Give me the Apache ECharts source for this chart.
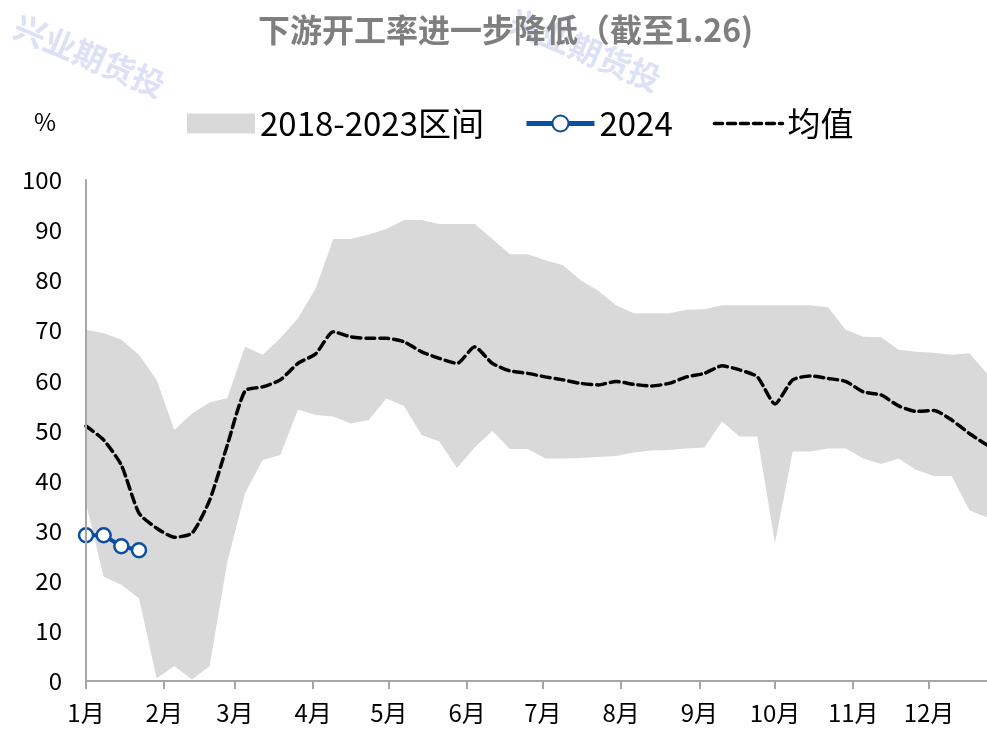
<!DOCTYPE html>
<html>
<head>
<meta charset="utf-8">
<script src="https://cdn.jsdelivr.net/npm/echarts@6/dist/echarts.min.js"></script>
<style>
    html, body { margin: 0; padding: 0; background: #fff; }
    #chart { width: 987px; height: 735px; }
</style>
</head>
<body>
<div id="chart"></div>
<script>
    // 周度数据，横轴为一年中的第几天（1月1日 = 0）
    let weekDays = [0, 7, 14, 21, 28, 35, 42, 49, 56, 63, 70, 77, 84, 91, 98, 105, 112, 119, 126, 133,
        140, 147, 154, 161, 168, 175, 182, 189, 196, 203, 210, 217, 224, 231, 238, 245, 252, 259, 266,
        273, 280, 287, 294, 301, 308, 315, 322, 329, 336, 343, 350, 357]
    // 2018-2023 区间上沿 / 下沿
    let rangeHigh = [70.1, 69.4, 68.1, 65.1, 60.1, 50.1, 53.4, 55.6, 56.5, 66.7, 65.1, 68.4, 72.4, 78.4,
        88.2, 88.2, 89.1, 90.2, 92.0, 92.0, 91.2, 91.2, 91.2, 88.2, 85.2, 85.2, 84.0, 83.0, 80.0, 77.9,
        75.0, 73.4, 73.4, 73.4, 74.1, 74.2, 75.0, 75.0, 75.0, 75.0, 75.0, 75.0, 74.6, 70.1, 68.7, 68.6,
        66.1, 65.7, 65.5, 65.1, 65.4, 61.4]
    let rangeLow = [35.5, 20.8, 19.2, 16.5, 0.5, 3.0, 0.3, 3.0, 23.8, 37.5, 44.1, 45.1, 54.2, 53.1,
        52.8, 51.4, 52.1, 56.4, 54.9, 49.1, 47.8, 42.5, 46.6, 49.9, 46.3, 46.3, 44.4, 44.4, 44.5, 44.7,
        44.9, 45.6, 46.0, 46.1, 46.4, 46.6, 51.8, 48.8, 48.8, 27.5, 45.8, 45.8, 46.4, 46.4, 44.4, 43.3,
        44.4, 42.1, 40.9, 40.9, 34.1, 32.7]
    // 均值
    let avgValues = [50.9, 48.1, 43.1, 33.5, 30.5, 28.7, 29.5, 36.1, 47.1, 57.9, 58.7, 60.1, 63.4, 65.3,
        69.7, 68.7, 68.4, 68.4, 67.7, 65.7, 64.4, 63.4, 66.7, 63.4, 61.9, 61.4, 60.7, 60.1, 59.4, 59.1,
        59.8, 59.2, 58.9, 59.4, 60.7, 61.4, 62.9, 62.1, 60.7, 55.3, 60.1, 60.9, 60.4, 59.8, 57.7, 57.1,
        54.9, 53.8, 54.0, 52.1, 49.4, 47.1]
    // 2024
    let days2024 = [0, 7, 14, 21]
    let values2024 = [29.1, 29.1, 26.9, 26.1]
    // 月份刻度（非闰年每月首日）
    let monthStarts = [0, 31, 59, 90, 120, 151, 181, 212, 243, 273, 304, 334]
    let monthLabels = ['1月', '2月', '3月', '4月', '5月', '6月', '7月', '8月', '9月', '10月', '11月', '12月']
    let lastDay = 357

    let fontFamily = '"Noto Sans CJK SC", "Noto Sans", sans-serif'
    let axisColor = '#a6a6a6'
    let bandColor = '#d9d9d9'
    let blue = '#0b4ea2'
    let markColor = 'rgba(185,195,238,0.5)'

    // 按天的类目轴
    let dayCategories = []
    for (let d = 0; d <= lastDay; d++) {
        dayCategories.push(String(d))
    }

    let lowData = []
    let diffData = []
    let avgData = []
    weekDays.forEach((d, i) => {
        lowData.push([d, rangeLow[i]])
        diffData.push([d, +(rangeHigh[i] - rangeLow[i]).toFixed(2)])
        avgData.push([d, avgValues[i]])
    })
    let data2024 = days2024.map((d, i) => [d, values2024[i]])

    let isMonthStart = function (index) {
        return monthStarts.indexOf(index) >= 0
    }

    let chart = echarts.init(document.getElementById('chart'))
    const options = {
        animation: false,
        textStyle: { fontFamily: fontFamily },
        title: {
            text: '下游开工率进一步降低（截至1.26)',
            left: 253,
            top: 9,
            textStyle: {
                color: '#7f7f7f',
                fontSize: 32,
                fontWeight: 'bold',
                fontFamily: fontFamily
            }
        },
        graphic: [
            {
                type: 'text', x: 22, y: 10, rotation: -0.4, silent: true,
                style: { text: '兴业期货投', fill: markColor, font: 'bold 32px ' + fontFamily }
            },
            {
                type: 'text', x: 518, y: 4, rotation: -0.4, silent: true,
                style: { text: '兴业期货投', fill: markColor, font: 'bold 32px ' + fontFamily }
            }
        ],
        legend: {
            top: 102,
            left: 182,
            itemWidth: 68,
            itemHeight: 20,
            itemGap: 40,
            textStyle: { fontSize: 33, color: '#000', fontFamily: fontFamily },
            data: [
                { name: '2018-2023区间', icon: 'rect', itemStyle: { color: bandColor } },
                { name: '2024', lineStyle: { width: 5 } },
                {
                    name: '均值',
                    itemStyle: { opacity: 0, borderWidth: 0 },
                    lineStyle: { width: 3.5, type: [8, 5], cap: 'round', color: '#000' }
                }
            ]
        },
        grid: {
            left: 86,
            right: 0,
            top: 180,
            bottom: 54,
            containLabel: false
        },
        xAxis: {
            type: 'category',
            data: dayCategories,
            boundaryGap: false,
            z: 5,
            splitLine: { show: false },
            axisLine: { lineStyle: { color: axisColor, width: 2 } },
            axisTick: {
                show: true,
                length: 8,
                interval: isMonthStart,
                lineStyle: { color: axisColor, width: 2 }
            },
            axisLabel: {
                interval: isMonthStart,
                margin: 20,
                fontSize: 24,
                color: '#000',
                formatter: function (value, index) {
                    let idx = monthStarts.indexOf(index)
                    return idx >= 0 ? monthLabels[idx] : ''
                }
            }
        },
        yAxis: {
            type: 'value',
            min: 0,
            max: 100,
            interval: 10,
            name: '%',
            nameGap: 46,
            z: 5,
            nameTextStyle: {
                fontSize: 24,
                color: '#000',
                align: 'right',
                padding: [0, 30, 0, 0]
            },
            splitLine: { show: false },
            axisLine: { show: true, lineStyle: { color: axisColor, width: 2 } },
            axisTick: { show: false },
            axisLabel: {
                margin: 24,
                fontSize: 24,
                color: '#000'
            }
        },
        series: [
            {
                name: '区间下沿',
                type: 'line',
                stack: 'band',
                symbol: 'none',
                lineStyle: { opacity: 0 },
                data: lowData,
                z: 1
            },
            {
                name: '2018-2023区间',
                type: 'line',
                stack: 'band',
                symbol: 'none',
                itemStyle: { color: bandColor },
                lineStyle: { opacity: 0 },
                areaStyle: { color: bandColor, opacity: 1 },
                data: diffData,
                z: 1
            },
            {
                name: '均值',
                type: 'line',
                symbol: 'none',
                smooth: 0.2,
                itemStyle: { color: '#000' },
                lineStyle: { color: '#000', width: 3.5, type: [9, 5], cap: 'round' },
                data: avgData,
                z: 3
            },
            {
                name: '2024',
                type: 'line',
                symbol: 'circle',
                symbolSize: 14,
                showAllSymbol: true,
                itemStyle: { color: '#fff', borderColor: blue, borderWidth: 2.5 },
                lineStyle: { color: blue, width: 4 },
                data: data2024,
                z: 4
            }
        ]
    }
    chart.setOption(options)
</script>
</body>
</html>
